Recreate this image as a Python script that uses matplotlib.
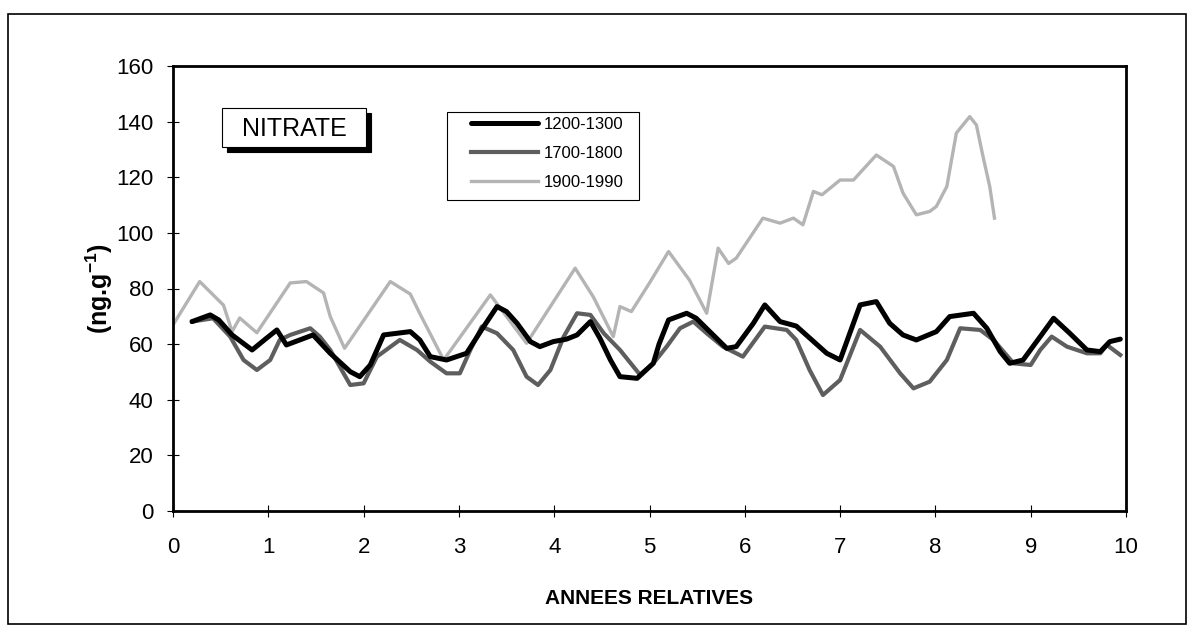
import matplotlib
matplotlib.use("Agg")
import matplotlib.pyplot as plt
from matplotlib.patches import Rectangle

plt.rcParams['font.family'] = ['Liberation Sans', 'DejaVu Sans']
plt.rcParams['mathtext.fontset'] = 'custom'
plt.rcParams['mathtext.bf'] = 'Liberation Sans:bold'
plt.rcParams['mathtext.rm'] = 'Liberation Sans'

# ---- data ----
x_1200 = [0.20, 0.39, 0.48, 0.62, 0.83, 0.98, 1.09, 1.19, 1.33, 1.47, 1.65, 1.86, 1.96, 2.07,
          2.21, 2.49, 2.59, 2.70, 2.87, 3.08, 3.26, 3.40, 3.50, 3.61, 3.75, 3.85, 3.99, 4.13,
          4.24, 4.38, 4.48, 4.59, 4.69, 4.87, 5.04, 5.10, 5.20, 5.39, 5.49, 5.81, 5.91, 6.09,
          6.21, 6.37, 6.54, 6.86, 7.00, 7.21, 7.38, 7.52, 7.66, 7.80, 8.01, 8.15, 8.40, 8.54,
          8.68, 8.78, 8.92, 9.10, 9.24, 9.41, 9.59, 9.73, 9.83, 9.94]
y_1200 = [68.1, 70.5, 68.7, 63.3, 57.9, 62.1, 65.1, 59.7, 61.5, 63.3, 56.7, 50.1, 48.3, 52.5,
          63.3, 64.5, 61.5, 55.5, 54.3, 56.7, 66.3, 73.5, 71.7, 67.5, 60.9, 59.1, 60.9, 61.8,
          63.3, 68.1, 62.1, 54.3, 48.3, 47.7, 53.1, 60.0, 68.7, 71.1, 69.3, 58.5, 59.1, 67.5,
          74.1, 68.1, 66.5, 56.7, 54.3, 74.1, 75.3, 67.5, 63.3, 61.5, 64.5, 69.9, 71.1, 65.7,
          57.3, 53.1, 54.3, 62.7, 69.3, 63.9, 57.9, 57.3, 60.9, 61.8]

x_1700 = [0.20, 0.42, 0.60, 0.74, 0.88, 1.02, 1.12, 1.23, 1.44, 1.54, 1.65, 1.86, 2.00, 2.14,
          2.38, 2.56, 2.70, 2.87, 3.01, 3.12, 3.24, 3.40, 3.57, 3.71, 3.83, 3.96, 4.10, 4.24,
          4.38, 4.52, 4.69, 4.90, 5.04, 5.18, 5.32, 5.46, 5.60, 5.77, 5.98, 6.21, 6.44, 6.54,
          6.68, 6.82, 7.00, 7.21, 7.42, 7.63, 7.77, 7.94, 8.12, 8.26, 8.47, 8.61, 8.82, 9.00,
          9.10, 9.22, 9.38, 9.59, 9.73, 9.80, 9.94]
y_1700 = [68.1, 69.3, 62.7, 54.3, 50.7, 54.3, 61.5, 63.3, 65.7, 62.7, 57.9, 45.3, 45.9, 55.5,
          61.5, 57.9, 53.7, 49.5, 49.5, 57.9, 66.3, 63.9, 57.9, 48.3, 45.3, 50.7, 62.7, 71.1,
          70.5, 63.9, 57.9, 49.0, 53.1, 59.1, 65.7, 68.1, 63.9, 59.1, 55.5, 66.3, 65.1, 61.5,
          50.7, 41.7, 47.1, 65.1, 59.1, 49.5, 44.1, 46.5, 54.3, 65.7, 65.1, 61.5, 53.1, 52.5,
          57.9, 62.7, 59.1, 56.7, 56.7, 59.7, 56.1]

x_1900 = [0.00, 0.28, 0.53, 0.62, 0.70, 0.88, 1.23, 1.40, 1.58, 1.65, 1.80, 2.28, 2.49, 2.59,
          2.84, 3.33, 3.50, 3.71, 4.22, 4.41, 4.62, 4.69, 4.81, 5.00, 5.20, 5.42, 5.60, 5.72,
          5.83, 5.91, 6.19, 6.37, 6.51, 6.61, 6.72, 6.81, 7.00, 7.14, 7.38, 7.56, 7.66, 7.80,
          7.94, 8.01, 8.12, 8.22, 8.36, 8.43, 8.50, 8.57, 8.62]
y_1900 = [66.9, 82.5, 74.0, 64.5, 69.4, 64.1, 82.0, 82.5, 78.4, 69.9, 58.5, 82.5, 78.0, 71.0,
          54.3, 77.7, 69.9, 60.3, 87.3, 77.0, 62.7, 73.5, 71.7, 82.0, 93.3, 83.0, 71.1, 94.5,
          89.0, 90.9, 105.3, 103.5, 105.3, 102.9, 114.9, 113.7, 119.0, 119.0, 128.0, 123.9, 114.3, 106.5,
          107.7, 109.5, 116.7, 135.9, 141.8, 138.8, 127.4, 116.7, 105.3]

series_labels = ['1200-1300', '1700-1800', '1900-1990']
x_ticks = list(range(0, 11))
y_ticks = list(range(0, 161, 20))

# ---- figure ----
W, H = 1192, 638
fig = plt.figure(figsize=(W / 100, H / 100), dpi=100)
fig.patch.set_facecolor('white')

# outer frame
fig.patches.append(Rectangle((8 / W, 1 - 624 / H), 1178 / W, 610 / H,
                             transform=fig.transFigure, fill=False,
                             edgecolor='black', linewidth=1.2))

ax_l, ax_r, ax_t, ax_b = 173, 1126, 66, 511
ax = fig.add_axes([ax_l / W, 1 - ax_b / H, (ax_r - ax_l) / W, (ax_b - ax_t) / H])

ax.plot(x_1200, y_1200, color='black', linewidth=3.6, solid_joinstyle='round',
        solid_capstyle='round', label=series_labels[0], zorder=3)
ax.plot(x_1700, y_1700, color='#5e5e5e', linewidth=3.0, solid_joinstyle='round',
        label=series_labels[1], zorder=2)
ax.plot(x_1900, y_1900, color='#b4b4b4', linewidth=2.4, solid_joinstyle='round',
        label=series_labels[2], zorder=1)

ax.set_xlim(0, 10)
ax.set_ylim(0, 160)
ax.set_xticks(x_ticks)
ax.set_yticks(y_ticks)
ax.tick_params(axis='both', direction='inout', length=8, width=0.8, labelsize=16)
ax.tick_params(axis='x', pad=15)
ax.tick_params(axis='y', pad=10)
for s in ax.spines.values():
    s.set_linewidth(2.0)

ax.set_xlabel('ANNEES RELATIVES', fontsize=15, fontweight='bold', labelpad=22)
ax.set_ylabel('(ng.g$^{\\mathbf{-1}}$)', fontsize=18, fontweight='bold', labelpad=1)

# NITRATE box with shadow
def afx(px):
    return (px - ax_l) / (ax_r - ax_l)

def afy(py):
    return (ax_b - py) / (ax_b - ax_t)

bx0, bx1, by0, by1 = 222, 366, 108, 147
ax.add_patch(Rectangle((afx(bx0 + 5), afy(by1 + 5)), afx(bx1) - afx(bx0), afy(by0) - afy(by1),
                       transform=ax.transAxes, facecolor='black', edgecolor='black',
                       linewidth=0.8, zorder=5))
ax.add_patch(Rectangle((afx(bx0), afy(by1)), afx(bx1) - afx(bx0), afy(by0) - afy(by1),
                       transform=ax.transAxes, facecolor='white', edgecolor='black',
                       linewidth=0.8, zorder=6))
ax.text(afx((bx0 + bx1) / 2), afy((by0 + by1) / 2 + 1), 'NITRATE', transform=ax.transAxes,
        ha='center', va='center', fontsize=18, zorder=7)

# legend frame drawn at exact position, legend content placed inside
lx0, lx1, ly0, ly1 = 447, 639, 112, 200
ax.add_patch(Rectangle((afx(lx0), afy(ly1)), afx(lx1) - afx(lx0), afy(ly0) - afy(ly1),
                       transform=ax.transAxes, facecolor='white', edgecolor='black',
                       linewidth=0.8, zorder=7))
leg = ax.legend(loc='upper left', bbox_to_anchor=(afx(471), afy(117)), frameon=False,
                fontsize=12, handlelength=4.0, handletextpad=0.35, labelspacing=0.85,
                borderpad=0, borderaxespad=0)
leg.set_zorder(8)

fig.savefig('out.png', dpi=100, facecolor='white')
